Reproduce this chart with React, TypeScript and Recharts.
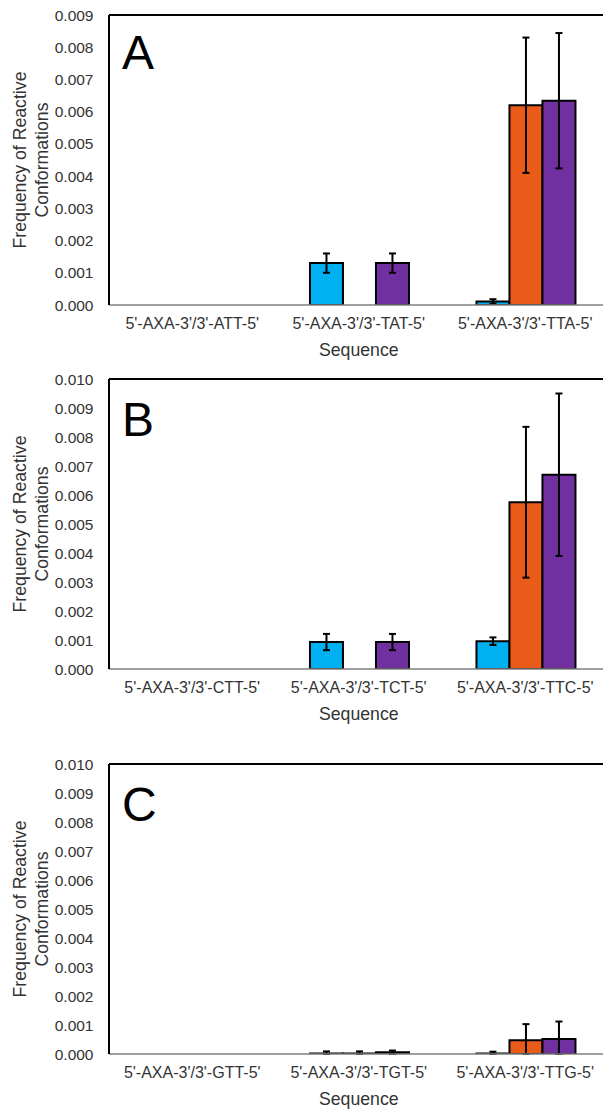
import { BarChart, Bar, XAxis, YAxis, ErrorBar, ReferenceLine, Label } from "recharts";

const FONT = '"Liberation Sans", Arial, sans-serif';
const TEXT = "#333333";

const COLORS = {
  blue: "#00B0F0",
  orange: "#EA5B1A",
  purple: "#7030A0",
};

// Panel A
const categoriesA = ["5'-AXA-3'/3'-ATT-5'", "5'-AXA-3'/3'-TAT-5'", "5'-AXA-3'/3'-TTA-5'"];
const blueA = [0, 0.0013, 0.00011];
const blueErrA = [null, 0.0003, 0.00007];
const orangeA = [0, 0, 0.0062];
const orangeErrA = [null, null, 0.0021];
const purpleA = [0, 0.0013, 0.00634];
const purpleErrA = [null, 0.0003, 0.0021];

// Panel B
const categoriesB = ["5'-AXA-3'/3'-CTT-5'", "5'-AXA-3'/3'-TCT-5'", "5'-AXA-3'/3'-TTC-5'"];
const blueB = [0, 0.00093, 0.00096];
const blueErrB = [null, 0.00028, 0.00013];
const orangeB = [0, 0, 0.00575];
const orangeErrB = [null, null, 0.0026];
const purpleB = [0, 0.00093, 0.0067];
const purpleErrB = [null, 0.00028, 0.0028];

// Panel C
const categoriesC = ["5'-AXA-3'/3'-GTT-5'", "5'-AXA-3'/3'-TGT-5'", "5'-AXA-3'/3'-TTG-5'"];
const blueC = [0, 0.00002, 0.00002];
const blueErrC = [null, 0.00007, 0.00006];
const orangeC = [0, 0.00002, 0.00047];
const orangeErrC = [null, 0.00007, 0.00056];
const purpleC = [0, 0.00006, 0.00052];
const purpleErrC = [null, 0.00006, 0.0006];

const ticksA = [0, 0.001, 0.002, 0.003, 0.004, 0.005, 0.006, 0.007, 0.008, 0.009];
const ticksBC = [0, 0.001, 0.002, 0.003, 0.004, 0.005, 0.006, 0.007, 0.008, 0.009, 0.01];

// error bars are not drawn below the axis
const errPair = (v: number, e: number | null) => (e == null ? null : [Math.min(v, e), e]);

function buildRows(
  categories: string[],
  blue: number[], blueErr: (number | null)[],
  orange: number[], orangeErr: (number | null)[],
  purple: number[], purpleErr: (number | null)[]
) {
  return categories.map((name, i) => ({
    name,
    blue: blue[i],
    blueErr: errPair(blue[i], blueErr[i]),
    orange: orange[i],
    orangeErr: errPair(orange[i], orangeErr[i]),
    purple: purple[i],
    purpleErr: errPair(purple[i], purpleErr[i]),
  }));
}

const rowsA = buildRows(categoriesA, blueA, blueErrA, orangeA, orangeErrA, purpleA, purpleErrA);
const rowsB = buildRows(categoriesB, blueB, blueErrB, orangeB, orangeErrB, purpleB, purpleErrB);
const rowsC = buildRows(categoriesC, blueC, blueErrC, orangeC, orangeErrC, purpleC, purpleErrC);

function YTitle(props: any) {
  const vb = props.viewBox || {};
  const cy = (vb.y ?? 15) + (vb.height ?? 290) / 2;
  const style = { fontSize: 17.7, fill: TEXT, fontFamily: FONT };
  return (
    <g>
      <text x={26} y={cy} textAnchor="middle" transform={`rotate(-90 26 ${cy})`} style={style}>
        Frequency of Reactive
      </text>
      <text x={47.5} y={cy} textAnchor="middle" transform={`rotate(-90 47.5 ${cy})`} style={style}>
        Conformations
      </text>
    </g>
  );
}

interface PanelProps {
  rows: ReturnType<typeof buildRows>;
  ticks: number[];
  yMax: number;
  letter: string;
  top: number;
  letterTop: number;
}

function Panel({ rows, ticks, yMax, letter, top, letterTop }: PanelProps) {
  const series = ["blue", "orange", "purple"] as const;
  return (
    <div style={{ position: "absolute", left: 0, top, width: 620, height: 361, fontFamily: FONT }}>
      <BarChart
        width={620}
        height={361}
        data={rows}
        margin={{ top: 15, right: 11.5, bottom: 0, left: 0 }}
        barCategoryGap="20.7%"
        barGap={0}
      >
        <XAxis
          dataKey="name"
          interval={0}
          height={56}
          axisLine={{ stroke: "#7f7f7f", strokeWidth: 1.5 }}
          tickLine={false}
          tickSize={6}
          tickMargin={7}
          tick={{ fontSize: 16, fill: TEXT }}
        >
          <Label value="Sequence" position="insideBottom" offset={5} style={{ fontSize: 17.7, fill: TEXT }} />
        </XAxis>
        <YAxis
          type="number"
          domain={[0, yMax]}
          ticks={ticks}
          interval={0}
          allowDataOverflow
          width={109}
          axisLine={{ stroke: "#000", strokeWidth: 2 }}
          tickLine={false}
          tickSize={6}
          tickMargin={9.5}
          tick={{ fontSize: 15.5, fill: TEXT }}
          tickFormatter={(v: number) => v.toFixed(3)}
        >
          <Label content={YTitle} />
        </YAxis>
        <ReferenceLine y={yMax} stroke="#000" strokeWidth={2} />
        {series.map((key) => (
          <Bar
            key={key}
            dataKey={key}
            fill={COLORS[key]}
            stroke="#000"
            strokeWidth={2}
            isAnimationActive={false}
          >
            <ErrorBar dataKey={`${key}Err`} width={3.5} stroke="#000" strokeWidth={2} direction="y" />
          </Bar>
        ))}
      </BarChart>
      <div
        style={{
          position: "absolute",
          left: 122,
          top: letterTop - top - 6,
          fontSize: 48,
          lineHeight: "48px",
          color: "#000",
        }}
      >
        {letter}
      </div>
    </div>
  );
}

export default function App() {
  return (
    <div
      style={{
        position: "absolute",
        left: 0,
        top: 0,
        width: 603,
        height: 1109,
        overflow: "hidden",
        background: "#fff",
      }}
    >
      <Panel rows={rowsA} ticks={ticksA} yMax={0.009} letter="A" top={0} letterTop={35} />
      <Panel rows={rowsB} ticks={ticksBC} yMax={0.01} letter="B" top={364} letterTop={402} />
      <Panel rows={rowsC} ticks={ticksBC} yMax={0.01} letter="C" top={749} letterTop={787} />
    </div>
  );
}
